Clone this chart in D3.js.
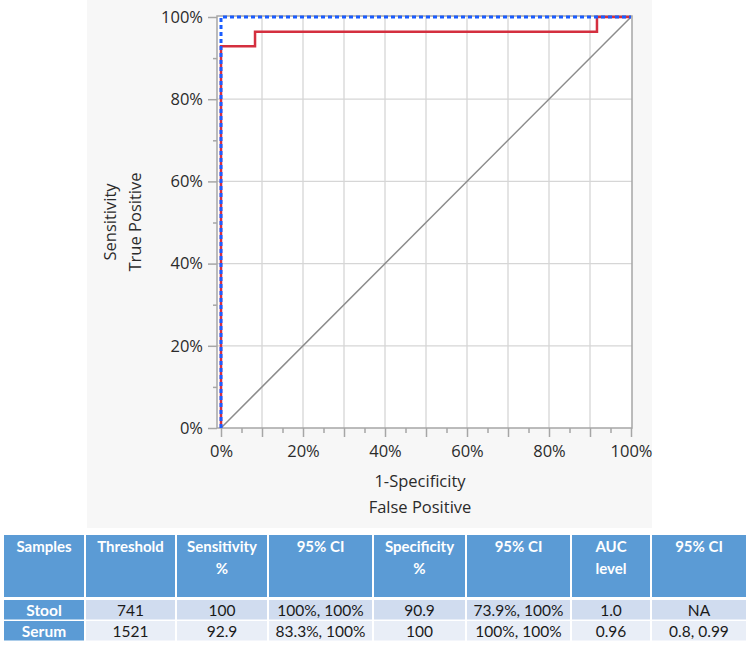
<!DOCTYPE html>
<html>
<head>
<meta charset="utf-8">
<script src="https://cdn.jsdelivr.net/npm/d3@7"></script>
<style>
  body { margin: 0; background: #fff; }
</style>
</head>
<body>
<div id="chart"></div>
<script>
// ROC curve points (step after)
var stoolFPR = [0, 0, 1];
var stoolTPR = [0, 1, 1];
var serumFPR = [0, 0, 0.083, 0.917, 1];
var serumTPR = [0, 0.929, 0.964, 1, 1];

// table
var headers = [["Samples"], ["Threshold"], ["Sensitivity", "%"], ["95% CI"], ["Specificity", "%"], ["95% CI"], ["AUC", "level"], ["95% CI"]];
var samples = ["Stool", "Serum"];
var thresholds = ["741", "1521"];
var sensitivity = ["100", "92.9"];
var sensCI = ["100%, 100%", "83.3%, 100%"];
var specificity = ["90.9", "100"];
var specCI = ["73.9%, 100%", "100%, 100%"];
var auc = ["1.0", "0.96"];
var aucCI = ["NA", "0.8, 0.99"];

var colEdges = [3, 85, 176, 268, 373, 466, 571, 651, 747];

var W = 750, H = 645;
var svg = d3.select("#chart").append("svg")
    .attr("width", W).attr("height", H);

// grey panel behind the chart
svg.append("rect")
    .attr("x", 87).attr("y", 0).attr("width", 565).attr("height", 528)
    .attr("fill", "#f7f7f7");

var x = d3.scaleLinear().domain([0, 1]).range([221, 631]);
var y = d3.scaleLinear().domain([0, 1]).range([428, 17]);

var frame = {x0: 217, x1: 632, y0: 16, y1: 428};

svg.append("rect")
    .attr("x", frame.x0).attr("y", frame.y0)
    .attr("width", frame.x1 - frame.x0).attr("height", frame.y1 - frame.y0)
    .attr("fill", "#fff");

var g = svg.append("g");

// vertical gridlines every 10%
g.selectAll(".vgrid")
    .data(d3.range(1, 10).map(function(i){ return i / 10; }))
    .enter().append("line")
    .attr("x1", function(d){ return x(d); }).attr("x2", function(d){ return x(d); })
    .attr("y1", frame.y0).attr("y2", frame.y1)
    .attr("stroke", "#d6d6d6").attr("stroke-width", 1.3);

// horizontal gridlines every 20%
g.selectAll(".hgrid")
    .data([0.2, 0.4, 0.6, 0.8])
    .enter().append("line")
    .attr("y1", function(d){ return y(d); }).attr("y2", function(d){ return y(d); })
    .attr("x1", frame.x0).attr("x2", frame.x1)
    .attr("stroke", "#d6d6d6").attr("stroke-width", 1.3);

// diagonal reference
g.append("line")
    .attr("x1", x(0)).attr("y1", y(0)).attr("x2", x(1)).attr("y2", y(1))
    .attr("stroke", "#8c8c8c").attr("stroke-width", 1.5);

// frame
svg.append("rect")
    .attr("x", frame.x0).attr("y", frame.y0)
    .attr("width", frame.x1 - frame.x0).attr("height", frame.y1 - frame.y0)
    .attr("fill", "none").attr("stroke", "#a6a6a6").attr("stroke-width", 1.5);

var line = d3.line()
    .x(function(d){ return x(d[0]); })
    .y(function(d){ return y(d[1]); })
    .curve(d3.curveStepAfter);

var serumPts = serumFPR.map(function(v, i){ return [v, serumTPR[i]]; });
var stoolPts = stoolFPR.map(function(v, i){ return [v, stoolTPR[i]]; });

svg.append("path").attr("d", line(serumPts))
    .attr("fill", "none").attr("stroke", "#d42f3f").attr("stroke-width", 2.5);
svg.append("path").attr("d", line(stoolPts))
    .attr("fill", "none").attr("stroke", "#1a5cff").attr("stroke-width", 3)
    .attr("stroke-dasharray", "4,3");

// axes
var fmt = function(d){ return Math.round(d * 100) + "%"; };

var xMajor = d3.axisBottom(x).tickValues(d3.range(0, 11).map(function(i){ return i / 10; }))
    .tickSize(9).tickFormat(function(d){ return (Math.round(d * 10) % 2 === 0) ? fmt(d) : ""; });
var xMinor = d3.axisBottom(x).tickValues(d3.range(0, 10).map(function(i){ return i / 10 + 0.05; }))
    .tickSize(5).tickFormat("");
var yMajor = d3.axisLeft(y).tickValues([0, 0.2, 0.4, 0.6, 0.8, 1]).tickSize(9).tickFormat(fmt);
var yMinor = d3.axisLeft(y).tickValues([0.1, 0.3, 0.5, 0.7, 0.9]).tickSize(4).tickFormat("");

function styleAxis(sel) {
  sel.select(".domain").remove();
  sel.selectAll(".tick line").attr("stroke", "#a6a6a6").attr("stroke-width", 1.5);
  sel.selectAll("text").attr("fill", "#2b2b2b")
     .style("font-family", "'Open Sans', 'Noto Sans', sans-serif").style("font-size", "16.5px");
}

svg.append("g").attr("transform", "translate(0," + frame.y1 + ")").call(xMajor).call(styleAxis)
   .selectAll("text").attr("dy", "1.0em");
svg.append("g").attr("transform", "translate(0," + frame.y1 + ")").call(xMinor).call(styleAxis);
svg.append("g").attr("transform", "translate(" + frame.x0 + ",0)").call(yMajor).call(styleAxis)
   .selectAll("text").attr("x", -14);
svg.append("g").attr("transform", "translate(" + frame.x0 + ",0)").call(yMinor).call(styleAxis);

// axis titles
var titleFont = "'Open Sans', 'Noto Sans', sans-serif";
svg.append("text").attr("x", 420).attr("y", 487).attr("text-anchor", "middle")
    .style("font-family", titleFont).style("font-size", "16.5px").attr("fill", "#2b2b2b")
    .text("1-Specificity");
svg.append("text").attr("x", 420).attr("y", 513).attr("text-anchor", "middle")
    .style("font-family", titleFont).style("font-size", "16.5px").attr("fill", "#2b2b2b")
    .text("False Positive");
svg.append("text").attr("transform", "translate(116,222) rotate(-90)").attr("text-anchor", "middle")
    .style("font-family", titleFont).style("font-size", "16.5px").attr("fill", "#2b2b2b")
    .text("Sensitivity");
svg.append("text").attr("transform", "translate(141,222) rotate(-90)").attr("text-anchor", "middle")
    .style("font-family", titleFont).style("font-size", "16.5px").attr("fill", "#2b2b2b")
    .text("True Positive");

// table
var tblFont = "Lato, 'Open Sans', sans-serif";
var headTop = 535, headBot = 597;
var rowTops = [600, 621], rowH = 19.5;
var rowFill = ["#d0dcef", "#e9eef7"];
var blue = "#5b9bd5";

var tbl = svg.append("g");
headers.forEach(function(h, i){
  var x0 = colEdges[i], x1 = colEdges[i + 1];
  tbl.append("rect").attr("x", x0 + 1).attr("y", headTop)
      .attr("width", x1 - x0 - 2).attr("height", headBot - headTop).attr("fill", blue);
  h.forEach(function(t, k){
    tbl.append("text").attr("x", (x0 + x1) / 2).attr("y", headTop + 17 + k * 22)
        .attr("text-anchor", "middle").attr("fill", "#fff")
        .style("font-family", tblFont).style("font-weight", "bold").style("font-size", "15px")
        .text(t);
  });
});

var rows = samples.map(function(s, r){
  return [s, thresholds[r], sensitivity[r], sensCI[r], specificity[r], specCI[r], auc[r], aucCI[r]];
});
rows.forEach(function(row, r){
  row.forEach(function(t, i){
    var x0 = colEdges[i], x1 = colEdges[i + 1];
    tbl.append("rect").attr("x", x0 + 1).attr("y", rowTops[r])
        .attr("width", x1 - x0 - 2).attr("height", rowH)
        .attr("fill", i === 0 ? blue : rowFill[r]);
    tbl.append("text").attr("x", (x0 + x1) / 2).attr("y", rowTops[r] + 15.5)
        .attr("text-anchor", "middle").attr("fill", i === 0 ? "#fff" : "#1a1a1a")
        .style("font-family", tblFont).style("font-weight", i === 0 ? "bold" : "normal")
        .style("font-size", "15.5px")
        .text(t);
  });
});
</script>
</body>
</html>
